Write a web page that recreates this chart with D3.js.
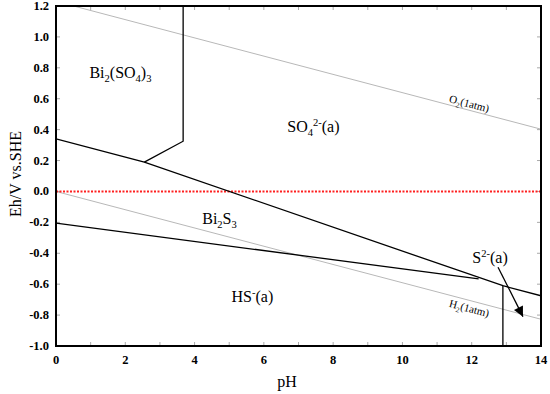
<!DOCTYPE html>
<html>
<head>
<meta charset="utf-8">
<title>Eh-pH diagram</title>
<style>
  body { margin: 0; background: #fff; }
  svg text { font-family: "Liberation Serif", "Times New Roman", Times, serif; }
  .tick-label { font-size: 12.5px; font-weight: bold; fill: #000; }
  .region { font-size: 16px; fill: #000; }
  .gas { font-size: 11px; fill: #000; }
</style>
</head>
<body>
<div id="chart"></div>
<script src="https://d3js.org/d3.v7.min.js"></script>
<script>
// ---- data (pH, Eh in V vs SHE) ----
var xTicks = [0, 2, 4, 6, 8, 10, 12, 14];
var yTicks = [1.2, 1.0, 0.8, 0.6, 0.4, 0.2, 0.0, -0.2, -0.4, -0.6, -0.8, -1.0];
var upperBoundary = [[0, 0.34], [2.55, 0.19], [12.9, -0.61], [14, -0.675]];
var lowerBoundary = [[0, -0.205], [12.2, -0.566]];
var sulfateEdge = [[2.55, 0.19], [3.67, 0.325], [3.67, 1.2]];
var sulfideEdge = [[12.9, -0.61], [12.9, -1.0]];
var o2Line = [[0, 1.23], [14, 0.403]];
var h2Line = [[0, 0], [14, -0.827]];
var arrowLine = [[12.76, -0.49], [13.48, -0.81]];
var regionLabels = [
  {parts: [["Bi", 0], ["2", 1], ["(SO", 0], ["4", 1], [")", 0], ["3", 1]], pH: 1.86, eh: 0.735},
  {parts: [["SO", 0], ["4", 1], ["2-", 2], ["(a)", 0]], pH: 7.43, eh: 0.385},
  {parts: [["Bi", 0], ["2", 1], ["S", 0], ["3", 1]], pH: 4.72, eh: -0.21},
  {parts: [["HS", 0], ["-", 2], ["(a)", 0]], pH: 5.67, eh: -0.715},
  {parts: [["S", 0], ["2-", 2], ["(a)", 0]], pH: 12.53, eh: -0.463}
];
var gasLabels = [
  {parts: [["O", 0], ["2", 1], ["(1atm)", 0]], pH: 11.9, eh: 0.545},
  {parts: [["H", 0], ["2", 1], ["(1atm)", 0]], pH: 11.9, eh: -0.78}
];

var W = 550, H = 394;
var margin = {top: 6, right: 9, bottom: 48, left: 56};
var width = W - margin.left - margin.right,
    height = H - margin.top - margin.bottom;

var svg = d3.select("#chart").append("svg")
  .attr("width", W).attr("height", H);

var x = d3.scaleLinear().domain([0, 14]).range([margin.left, margin.left + width]);
var y = d3.scaleLinear().domain([-1.0, 1.2]).range([margin.top + height, margin.top]);

var defs = svg.append("defs");
defs.append("clipPath").attr("id", "clip")
  .append("rect").attr("x", x(0)).attr("y", y(1.2))
  .attr("width", width).attr("height", height);
defs.append("marker")
  .attr("id", "arrowhead").attr("viewBox", "0 0 10 10")
  .attr("refX", 10).attr("refY", 5)
  .attr("markerWidth", 11).attr("markerHeight", 10)
  .attr("markerUnits", "userSpaceOnUse")
  .attr("orient", "auto")
  .append("path").attr("d", "M0,0L10,5L0,10Z").attr("fill", "#000");

// inward minor ticks
var tickColor = "#aaa";
var minorX = d3.range(1, 14, 1);
var minorY = d3.range(-0.8, 1.2, 0.2);
var ticksG = svg.append("g").attr("stroke", tickColor).attr("stroke-width", 1);
minorX.forEach(function(v) {
  ticksG.append("line").attr("x1", x(v)).attr("x2", x(v)).attr("y1", y(-1)).attr("y2", y(-1) - 4);
  ticksG.append("line").attr("x1", x(v)).attr("x2", x(v)).attr("y1", y(1.2)).attr("y2", y(1.2) + 4);
});
minorY.forEach(function(v) {
  ticksG.append("line").attr("x1", x(0)).attr("x2", x(0) + 4).attr("y1", y(v)).attr("y2", y(v));
  ticksG.append("line").attr("x1", x(14)).attr("x2", x(14) - 4).attr("y1", y(v)).attr("y2", y(v));
});

var line = d3.line().x(function(d) { return x(d[0]); }).y(function(d) { return y(d[1]); });
var plot = svg.append("g").attr("clip-path", "url(#clip)");

// water stability lines
plot.append("path").datum(o2Line).attr("d", line)
  .attr("fill", "none").attr("stroke", "#b8b8b8").attr("stroke-width", 1);
plot.append("path").datum(h2Line).attr("d", line)
  .attr("fill", "none").attr("stroke", "#b8b8b8").attr("stroke-width", 1);

// Eh = 0 reference
plot.append("line")
  .attr("x1", x(0)).attr("x2", x(14)).attr("y1", y(0)).attr("y2", y(0))
  .attr("stroke", "#ff2020").attr("stroke-width", 2).attr("stroke-dasharray", "2,1.5");

// phase boundaries
[upperBoundary, lowerBoundary, sulfateEdge, sulfideEdge].forEach(function(seg) {
  plot.append("path").datum(seg).attr("d", line)
    .attr("fill", "none").attr("stroke", "#000").attr("stroke-width", 1.3);
});

// arrow to S2- field
svg.append("path").datum(arrowLine).attr("d", line)
  .attr("fill", "none").attr("stroke", "#000").attr("stroke-width", 1.3)
  .attr("marker-end", "url(#arrowhead)");

function writeParts(t, parts, size) {
  var shift = 0;
  parts.forEach(function(p) {
    var target = p[1] === 1 ? size * 0.28 : (p[1] === 2 ? -size * 0.4 : 0);
    t.append("tspan").text(p[0])
      .attr("dy", target - shift)
      .style("font-size", p[1] ? (size * 0.66) + "px" : size + "px");
    shift = target;
  });
}

regionLabels.forEach(function(d) {
  var t = svg.append("text").attr("class", "region")
    .attr("x", x(d.pH)).attr("y", y(d.eh)).attr("text-anchor", "middle");
  writeParts(t, d.parts, 16);
});

var angle = Math.atan2(y(0) - y(0.0591), x(1) - x(0)) * 180 / Math.PI;
gasLabels.forEach(function(d) {
  var t = svg.append("text").attr("class", "gas")
    .attr("text-anchor", "middle")
    .attr("transform", "translate(" + x(d.pH) + "," + y(d.eh) + ") rotate(" + angle + ")");
  writeParts(t, d.parts, 11);
});

// frame
svg.append("rect").attr("x", x(0)).attr("y", y(1.2))
  .attr("width", width).attr("height", height)
  .attr("fill", "none").attr("stroke", "#000").attr("stroke-width", 2);

// tick labels
svg.selectAll(".xl").data(xTicks).enter().append("text")
  .attr("class", "tick-label").attr("text-anchor", "middle")
  .attr("x", function(d) { return x(d); }).attr("y", y(-1) + 18)
  .text(function(d) { return d; });
svg.selectAll(".yl").data(yTicks).enter().append("text")
  .attr("class", "tick-label").attr("text-anchor", "end")
  .attr("x", x(0) - 7).attr("y", function(d) { return y(d) + 4; })
  .text(function(d) { return d.toFixed(1); });

// axis titles
svg.append("text").attr("text-anchor", "middle")
  .attr("x", 287).attr("y", 387).style("font-size", "16px").text("pH");
svg.append("text").attr("text-anchor", "middle")
  .attr("transform", "translate(21,174) rotate(-90)")
  .style("font-size", "16px").text("Eh/V vs.SHE");
</script>
</body>
</html>
